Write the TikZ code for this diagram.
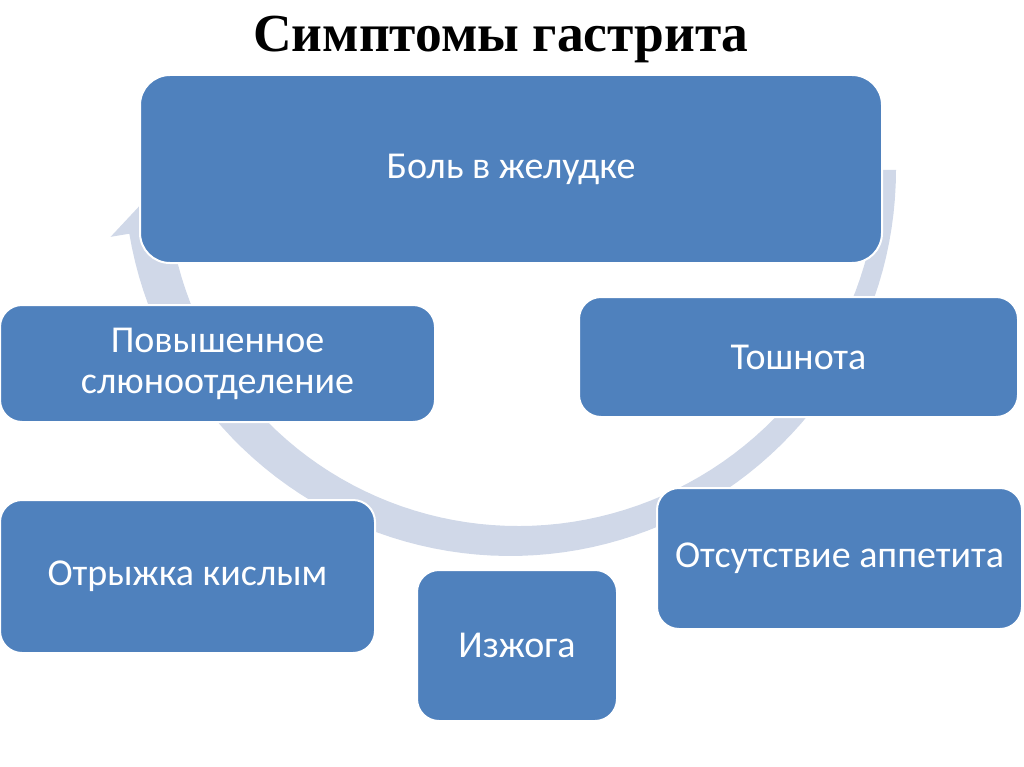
\documentclass[tikz,border=0pt]{standalone}
\usepackage{fontspec}
\setmainfont{Carlito}
\newfontfamily\titlefont{Liberation Serif}
\definecolor{boxblue}{RGB}{79,129,189}
\definecolor{ringgray}{RGB}{208,216,232}
\begin{document}
\begin{tikzpicture}[x=1pt,y=-1pt,
  sympt/.style={draw=white, line width=2pt, fill=boxblue, text=white, rounded corners=22pt,
    align=center, inner sep=0pt, font=\fontsize{38}{41}\selectfont}]
\useasboundingbox (0,0) rectangle (1024,767);
\node[anchor=base, font=\titlefont\bfseries\fontsize{53.5}{60}\selectfont] (title) at (501,52) {Симптомы гастрита};
% the circular arrow behind the boxes
\begin{scope}[shift={(510,170)}]
\fill[ringgray] plot[domain=0:170.5, samples=80] (\x:386)
  -- (170.5:405) -- (174.5:372) -- (170.5:325)
  -- plot[domain=170.5:0, samples=80] (\x:{369-0.145*\x}) -- cycle;
\end{scope}
\node[sympt, rounded corners=30pt, minimum width=742pt, minimum height=188pt] (pain) at (511,169) {Боль в желудке};
\node[sympt, minimum width=435pt, minimum height=117pt] (saliva) at (217.5,363.5) {Повышенное\\слюноотделение};
\node[sympt, minimum width=439pt, minimum height=120pt] (nausea) at (798.5,357) {Тошнота};
\node[sympt, minimum width=375pt, minimum height=153pt] (belch) at (187.5,576.5) {Отрыжка кислым};
\node[sympt, minimum width=200pt, minimum height=151pt] (heart) at (517,645.5) {Изжога};
\node[sympt, minimum width=365pt, minimum height=141pt] (appet) at (839.5,558.5) {Отсутствие аппетита};
\end{tikzpicture}
\end{document}
